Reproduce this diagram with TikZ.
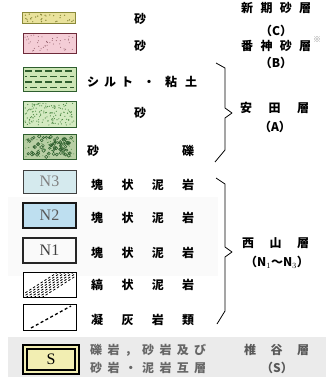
\documentclass[tikz,border=0pt]{standalone}
\usepackage{fontspec}
\setmainfont{Liberation Serif}
\newfontfamily\jp{Noto Sans CJK JP}
\definecolor{ylw}{HTML}{E9E29C}
\definecolor{ylwdot}{HTML}{8A8A3A}
\definecolor{pnk}{HTML}{F4CDD6}
\definecolor{pnkbd}{HTML}{6E2A3A}
\definecolor{grn}{HTML}{CDE6B6}
\definecolor{grnbd}{HTML}{2E5E2E}
\definecolor{grndot}{HTML}{4E8A45}
\definecolor{nthree}{HTML}{D5EAEE}
\definecolor{ntwo}{HTML}{BEDFF0}
\definecolor{none}{HTML}{E3E3EC}
\definecolor{sfill}{HTML}{F2EEB2}
\begin{document}
\begin{tikzpicture}[x=1pt,y=-1pt,
  box/.style={draw, line width=0.9pt, inner sep=0pt, minimum width=53pt},
  nlab/.style={font=\fontsize{16}{16}\selectfont},
  jt/.style={font=\jp\bfseries\fontsize{12}{14}\selectfont, inner sep=0pt},
  spread/.style={jt, anchor=west, text width=#1},
  braceline/.style={line width=0.8pt, line join=round}]
\useasboundingbox (0,0) rectangle (326,377);
\clip (0,0) rectangle (326,377);
% faint backgrounds
\fill[black!2] (8,197) rectangle (218,276);
\fill[black!8] (8,337) rectangle (326,377);
% ---- boxes ----
\node[box, draw=ylwdot, line width=0.6pt, fill=ylw, minimum height=11pt] (b1) at (48.5,17.5) {};
\node[box, draw=pnkbd, fill=pnk, minimum height=20pt] (b2) at (49.5,43) {};
\node[box, draw=grnbd, fill=grn, minimum height=24pt] (b3) at (49.5,79) {};
\node[box, draw=grnbd, fill=grn!85!white, minimum height=26pt] (b4) at (49.5,114) {};
\node[box, draw=grnbd, fill=grn!90!black, minimum height=25pt] (b5) at (49.5,146.5) {};
\node[box, draw=black!75, fill=nthree, minimum height=23pt, nlab, text=black!50] (bN3) at (49.5,181.5) {N3};
\node[box, draw=black!90, line width=1.2pt, fill=ntwo, minimum height=25pt, nlab, text=black!65] (bN2) at (49.5,215.5) {N2};
\node[box, draw=black!85, line width=1.1pt, fill=none, minimum height=25pt, nlab, text=black!75] (bN1) at (49.5,250.5) {N1};
\node[box, draw=black, fill=white, minimum height=25pt] (bh) at (49.5,284.5) {};
\node[box, draw=black, fill=white, minimum height=26pt] (bd) at (49.5,317) {};
\node[box, draw=black, line width=2pt, double=sfill, double distance=1.2pt, fill=sfill, minimum width=52pt, minimum height=25pt, nlab] (bS) at (51,359.5) {S};
% ---- patterns ----
\pgfmathsetseed{7}
\foreach \i in {1,...,30}{\fill[ylwdot] ({24+50*rnd},{14+8*rnd}) circle (0.7);}
\foreach \i in {1,...,45}{\fill[pnkbd!80] ({25+49*rnd},{35+16*rnd}) circle (0.5);}
\foreach \yy/\ph in {71/0,76.5/5,82/0,87.5/5}{
  \draw[grnbd, line width=1.1pt, dash pattern=on 7pt off 3pt, dash phase=\ph pt] (25,\yy) -- (74,\yy);}
\foreach \i in {1,...,140}{\fill[grndot] ({25+49*rnd},{103+22*rnd}) circle (0.6);}
\foreach \i in {1,...,70}{\draw[grnbd, line width=0.5pt] ({26+47*rnd},{136+21*rnd}) circle ({0.9+0.9*rnd});}
\foreach \i in {1,...,60}{\fill[grndot] ({25+49*rnd},{136+21*rnd}) circle (0.5);}
\begin{scope}
\clip (24,273) rectangle (75,296);
\foreach \o in {0,4,8,12,16,20,24}{
  \draw[line width=0.8pt, dash pattern=on 2.5pt off 2pt] (14+\o,300) -- (58+\o,272);}
\end{scope}
\draw[line width=1.3pt, dash pattern=on 3pt off 2.5pt] (31,328) -- (71,306);
% ---- left texts ----
\node[jt] (t1) at (140,19) {砂};
\node[jt] (t2) at (140,46) {砂};
\node[spread=110pt] (t3) at (87,82) {シ\hspace{5pt}ル\hspace{5pt}ト\hfill・\hfill 粘\hspace{8pt}土};
\node[jt] (t4) at (140,113) {砂};
\node[spread=107pt] (t5) at (87,151) {砂\hfill 礫};
\node[spread=103pt] (t6) at (91,185) {塊\hfill 状\hfill 泥\hfill 岩};
\node[spread=103pt] (t7) at (91,218) {塊\hfill 状\hfill 泥\hfill 岩};
\node[spread=103pt] (t8) at (91,253) {塊\hfill 状\hfill 泥\hfill 岩};
\node[spread=103pt] (t9) at (91,285) {縞\hfill 状\hfill 泥\hfill 岩};
\node[spread=103pt] (t10) at (91,320) {凝\hfill 灰\hfill 岩\hfill 類};
\node[spread=116pt, text=black!60] (t11) at (90,350) {礫\hfill 岩\hfill ，\hfill 砂\hfill 岩\hfill 及\hfill び};
\node[spread=116pt, text=black!60] (t12) at (90,368) {砂\hfill 岩\hfill ・\hfill 泥\hfill 岩\hfill 互\hfill 層};
% ---- right texts ----
\node[spread=70pt] (r0) at (241,8) {新\hfill 期\hfill 砂\hfill 層};
\node[jt] (rC) at (276,31) {（C）};
\node[spread=70pt] (r1) at (241,46) {番\hfill 神\hfill 砂\hfill 層};
\node[jt, font=\jp\fontsize{8}{8}\selectfont, text=black!45] (rx) at (317,40) {※};
\node[jt] (rB) at (276,63) {（B）};
\node[spread=69pt] (r2) at (240,108) {安\hfill 田\hfill 層};
\node[jt] (rA) at (275,127) {（A）};
\node[spread=67pt] (r3) at (242,243) {西\hfill 山\hfill 層};
\node[jt] (rN) at (277,262) {（N$_1$～N$_3$）};
\node[spread=65pt, text=black!65] (r4) at (244,350) {椎\hfill 谷\hfill 層};
\node[jt, text=black!65] (rS) at (277,368) {（S）};
% ---- braces ----
\draw[braceline] (216,63) -- (225,68) -- (225,108) -- (232,113) -- (225,118) -- (225,150) -- (215,162);
\draw[braceline] (216,178) -- (225,184) -- (225,247) -- (232,252) -- (225,257) -- (225,311) -- (217,324);
\end{tikzpicture}
\end{document}
